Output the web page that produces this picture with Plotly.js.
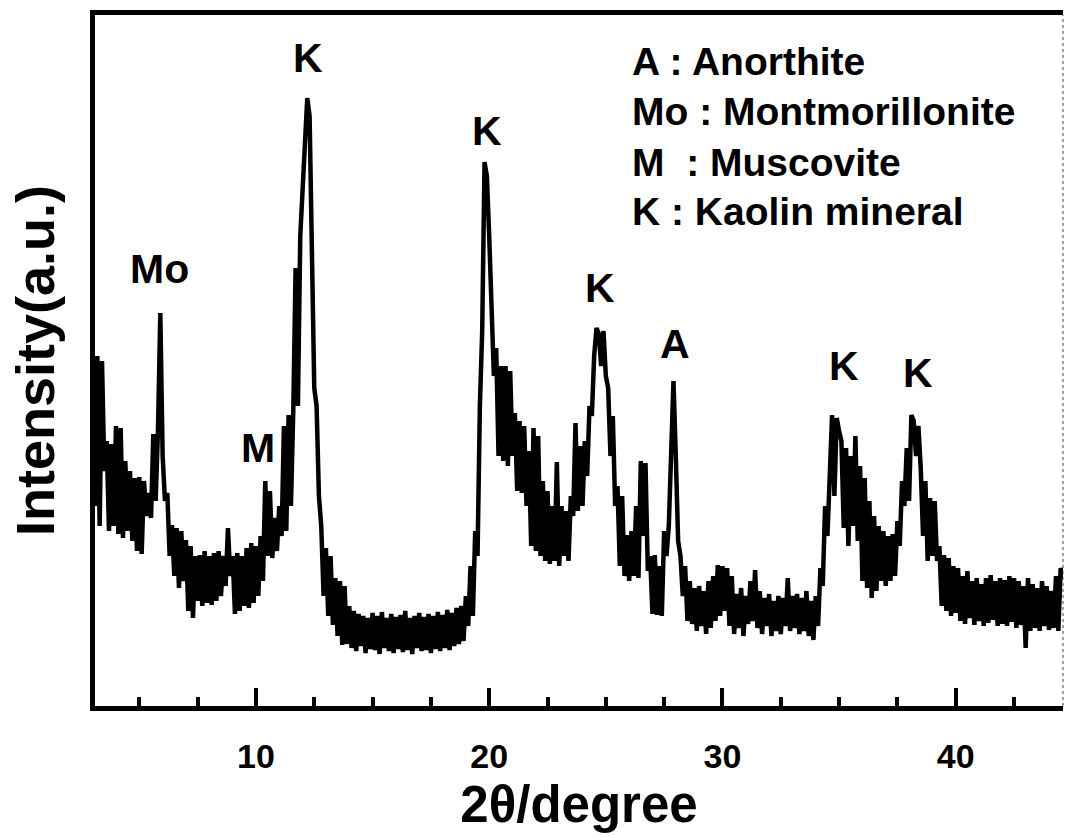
<!DOCTYPE html>
<html>
<head>
<meta charset="utf-8">
<script src="https://cdn.plot.ly/plotly-3.0.1.min.js"></script>
<style>
  html, body { margin: 0; padding: 0; background: #fff; }
  #chart { width: 1066px; height: 838px; }
</style>
</head>
<body>
<div id="chart"></div>
<script>
// XRD scan: 2θ from 3.1° in 0.1° steps
const scanStart = 3.1;
const scanStep = 0.1;
const intensity = [
  200, 350, 180, 345, 235, 265, 175, 262, 180, 280,
  172, 278, 168, 245, 175, 235, 165, 228, 155, 229,
  152, 225, 190, 213, 188, 272, 205, 276, 393, 250,
  205, 213, 150, 181, 130, 178, 118, 175, 125, 166,
  95, 160, 88, 150, 105, 151, 100, 155, 103, 150,
  101, 153, 105, 155, 110, 150, 120, 178, 130, 150,
  92, 153, 95, 150, 100, 158, 98, 163, 103, 160,
  110, 170, 125, 225, 150, 215, 148, 188, 155, 200,
  170, 280, 175, 291, 200, 295, 438, 300, 470, 520,
  575, 608, 590, 480, 318, 300, 210, 180, 110, 158,
  90, 150, 81, 128, 70, 125, 61, 120, 62, 100,
  58, 95, 55, 92, 60, 90, 53, 88, 57, 93,
  56, 90, 52, 94, 58, 88, 55, 92, 53, 89,
  57, 91, 54, 95, 56, 88, 52, 90, 58, 93,
  55, 89, 56, 92, 53, 90, 57, 94, 55, 91,
  58, 96, 56, 93, 60, 98, 62, 100, 65, 110,
  80, 140, 90, 175, 150, 300, 375, 544, 530, 470,
  380, 330, 358, 250, 340, 245, 340, 240, 335, 250,
  293, 215, 285, 213, 280, 200, 255, 160, 278, 155,
  270, 150, 225, 145, 215, 142, 200, 145, 244, 140,
  200, 150, 195, 145, 210, 190, 283, 195, 260, 200,
  265, 230, 300, 290, 350, 378, 372, 340, 375, 330,
  318, 250, 290, 200, 220, 140, 210, 130, 171, 125,
  175, 130, 200, 128, 245, 170, 243, 135, 150, 92,
  151, 91, 140, 90, 175, 150, 180, 260, 325, 250,
  165, 150, 110, 140, 85, 125, 82, 118, 75, 120,
  80, 115, 72, 125, 78, 130, 85, 141, 90, 140,
  95, 138, 80, 130, 72, 112, 78, 118, 70, 110,
  82, 125, 85, 136, 78, 115, 72, 108, 80, 112,
  70, 105, 75, 110, 72, 108, 80, 128, 75, 110,
  78, 112, 72, 108, 75, 115, 70, 105, 66, 110,
  80, 138, 120, 200, 170, 230, 291, 210, 288, 275,
  265, 178, 258, 160, 250, 180, 270, 165, 240, 125,
  228, 118, 205, 108, 190, 115, 180, 125, 175, 120,
  170, 125, 172, 130, 185, 160, 225, 200, 258, 205,
  291, 285, 250, 280, 238, 170, 225, 145, 208, 150,
  205, 145, 160, 100, 151, 95, 148, 90, 140, 93,
  138, 85, 130, 82, 135, 88, 125, 81, 128, 85,
  122, 80, 128, 83, 131, 86, 125, 80, 128, 82,
  126, 80, 130, 84, 128, 78, 125, 81, 120, 58,
  128, 75, 122, 78, 118, 75, 125, 80, 120, 76,
  115, 78, 130, 75, 138, 128
];

// Peak labels: phase letter, 2θ position, label height (a.u.)
const peakLabels = ["K", "Mo", "M", "K", "K", "A", "K", "K"];
const peakLabelX = [12.24, 5.85, 10.1, 19.92, 24.75, 27.95, 35.2, 38.4];
const peakLabelY = [648, 437, 258, 575, 418, 362, 340, 333];

// Phase key
const keyLines = ["A : Anorthite", "Mo : Montmorillonite", "M\u00a0 : Muscovite", "K : Kaolin mineral"];

const tickVals = [10, 20, 30, 40];
const tickText = ["10", "20", "30", "40"];

const FONT = "Arial, 'Liberation Sans', sans-serif";

const annotations = [];
peakLabels.forEach((t, i) => {
  annotations.push({
    x: peakLabelX[i], y: peakLabelY[i], xref: "x", yref: "y",
    text: t, showarrow: false,
    font: { family: FONT, size: 41, color: "#000", weight: "bold" },
    xanchor: "center", yanchor: "middle"
  });
});
const keyY = [0.932, 0.860, 0.787, 0.715];
keyLines.forEach((t, i) => {
  annotations.push({
    x: 0.5527, y: keyY[i], xref: "paper", yref: "paper",
    text: t, showarrow: false,
    font: { family: FONT, size: 39, color: "#000", weight: "bold" },
    xanchor: "left", yanchor: "middle", align: "left"
  });
});

const trace = {
  type: "scatter",
  mode: "lines",
  x0: scanStart,
  dx: scanStep,
  y: intensity,
  line: { color: "#000", width: 4.5 },
  hoverinfo: "skip"
};

const layout = {
  width: 1066,
  height: 838,
  margin: { l: 95, r: 3, t: 15, b: 132 },
  paper_bgcolor: "#fff",
  plot_bgcolor: "#fff",
  showlegend: false,
  xaxis: {
    range: [3.1, 44.6],
    showgrid: false,
    zeroline: false,
    showline: true,
    linecolor: "#000",
    linewidth: 5,
    mirror: true,
    ticks: "inside",
    ticklen: 18,
    tickwidth: 4,
    tickcolor: "#000",
    tickmode: "array",
    tickvals: tickVals,
    ticktext: tickText,
    ticklabelstandoff: 16,
    tickfont: { family: FONT, size: 34, color: "#000", weight: "bold" },
    minor: { dtick: 2.5, tick0: 0, ticks: "inside", ticklen: 9, tickwidth: 4, tickcolor: "#000", showgrid: false },
    title: { text: "2θ/degree", standoff: 14, font: { family: FONT, size: 51, color: "#000", weight: "bold" } },
    automargin: false,
    fixedrange: true
  },
  yaxis: {
    range: [0, 691],
    showgrid: false,
    zeroline: false,
    showline: true,
    linecolor: "#000",
    linewidth: 5,
    mirror: false,
    ticks: "",
    showticklabels: false,
    title: { text: "Intensity(a.u.)", standoff: 20, font: { family: FONT, size: 54, color: "#000", weight: "bold" } },
    automargin: false,
    fixedrange: true
  },
  shapes: [
    { type: "line", xref: "paper", yref: "paper", x0: 1, x1: 1, y0: 0, y1: 1,
      line: { color: "#444", width: 1, dash: "dot" } }
  ],
  annotations: annotations
};

Plotly.newPlot("chart", [trace], layout, { staticPlot: true, displayModeBar: false });
</script>
</body>
</html>
